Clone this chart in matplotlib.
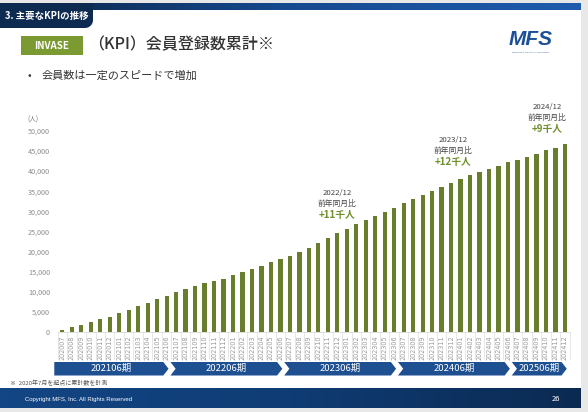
import numpy as np
import matplotlib
matplotlib.use('Agg')
import matplotlib.pyplot as plt
from matplotlib.patches import Polygon, Rectangle
from matplotlib.transforms import blended_transform_factory
from matplotlib.colors import LinearSegmentedColormap
from matplotlib.ticker import FuncFormatter

plt.rcParams['font.family'] = ['Noto Sans CJK JP', 'DejaVu Sans']

# ---------------- data ----------------
months = ['202007', '202008', '202009', '202010', '202011', '202012',
          '202101', '202102', '202103', '202104', '202105', '202106',
          '202107', '202108', '202109', '202110', '202111', '202112',
          '202201', '202202', '202203', '202204', '202205', '202206',
          '202207', '202208', '202209', '202210', '202211', '202212',
          '202301', '202302', '202303', '202304', '202305', '202306',
          '202307', '202308', '202309', '202310', '202311', '202312',
          '202401', '202402', '202403', '202404', '202405', '202406',
          '202407', '202408', '202409', '202410', '202411', '202412']
members = [600, 1200, 1800, 2550, 3300, 3900, 4700, 5500, 6500, 7350, 8350, 9100,
           9900, 10700, 11600, 12300, 12700, 13200, 14100, 15000, 15700, 16500, 17400, 18200,
           18900, 19900, 20900, 22100, 23500, 24600, 25600, 26800, 27900, 28900, 29900, 30900,
           32000, 33000, 34000, 35100, 36100, 37000, 38000, 38900, 39800, 40600, 41300, 42200,
           42800, 43400, 44200, 45100, 45800, 46600]
period_labels = ['202106期', '202206期', '202306期', '202406期', '202506期']
period_first = [0, 12, 24, 36, 48]
period_last = [11, 23, 35, 47, 53]
ann_index = [29, 41, 53]
ann_month = ['2022/12', '2023/12', '2024/12']
ann_yoy = ['+11千人', '+12千人', '+9千人']
yticks = [0, 5000, 10000, 15000, 20000, 25000, 30000, 35000, 40000, 45000, 50000]

W, H = 588, 412
fig = plt.figure(figsize=(W / 100, H / 100), dpi=100, facecolor='#e8e8e8')

# ---------------- slide decoration ----------------
bg = fig.add_axes([0, 0, 1, 1], zorder=-1)
bg.set_xlim(0, W)
bg.set_ylim(H, 0)
bg.axis('off')
bg.add_patch(Rectangle((0, 3), 581, 405, facecolor='white', edgecolor='none'))

top_cmap = LinearSegmentedColormap.from_list('top', ['#0b2447', '#164a90', '#1f5cad'])
bg.imshow(np.linspace(0, 1, 256)[None, :], extent=[0, 581, 10, 3], cmap=top_cmap,
          aspect='auto', zorder=1)
# tab with rounded bottom-right corner
r = 8
ang = np.linspace(0, np.pi / 2, 12)
arc = [(93 - r + r * np.cos(a), 28 - r + r * np.sin(a)) for a in ang]
tab_pts = [(0, 3), (93, 3)] + arc + [(0, 28)]
bg.add_patch(Polygon(tab_pts, closed=True, facecolor='#0d2a50', edgecolor='none', zorder=2))
bg.text(5, 16, '3. 主要なKPIの推移', color='white', fontsize=6.8, fontweight='bold',
        ha='left', va='center', zorder=3)

bg.add_patch(Rectangle((21, 36), 62, 19, facecolor='#7b9a31', edgecolor='none', zorder=2))
bg.text(52, 45.5, 'INVASE', color='white', fontsize=7, fontweight='bold',
        ha='center', va='center', zorder=3)
bg.text(88, 45, '（KPI）会員登録数累計※', color='#333333', fontsize=11.5,
        fontweight='medium', ha='left', va='center', zorder=3)

bg.text(531, 39, 'MFS', color='#1b4f97', fontsize=15, fontweight='bold', style='italic',
        family=['Liberation Sans', 'DejaVu Sans'], ha='center', va='center', zorder=3)
bg.text(531, 52, 'MORTGAGE  FINANCIAL  SOLUTIONS', color='#1b4f97', fontsize=1.6,
        ha='center', va='center', zorder=3)

bg.text(28, 76, '•', color='#333333', fontsize=7.5, ha='left', va='center')
bg.text(42, 76, '会員数は一定のスピードで増加', color='#333333', fontsize=8,
        ha='left', va='center')

bg.text(33, 120, '(人)', color='#777777', fontsize=4.8, ha='center', va='center')

bg.text(10, 383.5, '※  2020年7月を起点に累計数を計測', color='#555555', fontsize=4.3,
        style='italic', ha='left', va='center')

foot_cmap = LinearSegmentedColormap.from_list('foot', ['#134684', '#0f3c74', '#0b2a52'])
bg.imshow(np.linspace(0, 1, 256)[None, :], extent=[0, 581, 408, 388], cmap=foot_cmap,
          aspect='auto', zorder=1)
bg.text(25, 399, 'Copyright MFS, Inc. All Rights Reserved', color='white', fontsize=4.3,
        ha='left', va='center', zorder=3, family=['Liberation Sans', 'DejaVu Sans'])
bg.text(556, 399, '26', color='white', fontsize=5.5, ha='center', va='center', zorder=3)

# ---------------- chart ----------------
ax = fig.add_axes([57.6 / W, (H - 332.3) / H, 512 / W, 201.6 / H])
ax.patch.set_alpha(0)
x = np.arange(len(months))
ax.bar(x, members, width=0.45, color='#687e2c', zorder=2)
ax.set_xlim(-0.5, len(months) - 0.5)
ax.set_ylim(0, 50000)

ax.set_yticks(yticks)
ax.yaxis.set_major_formatter(FuncFormatter(lambda v, p: f'{int(v):,}'))
ax.tick_params(axis='y', length=0, pad=5.5, labelsize=5.2, labelcolor='#8c8c8c')

ax.set_xticks(x)
ax.set_xticklabels(months, rotation=90, fontsize=4.7, color='#9a9a9a',
                   family=['DejaVu Sans'])
ax.set_xticks(np.arange(-0.5, len(months)), minor=True)
ax.tick_params(axis='x', which='major', length=0, pad=2.5)
ax.tick_params(axis='x', which='minor', length=19.5, width=0.5, color='#dcdcdc')

for s in ['top', 'right', 'left']:
    ax.spines[s].set_visible(False)
ax.spines['bottom'].set_color('#d9d9d9')
ax.spines['bottom'].set_linewidth(0.6)

# annotations
ann_dx = [0, 2, -18]
ann_dy = [18, 21, 15]
for k, i in enumerate(ann_index):
    v = members[i]
    ax.annotate(ann_yoy[k], xy=(i, v), xytext=(ann_dx[k], ann_dy[k]),
                textcoords='offset pixels', ha='center', va='center',
                fontsize=7, fontweight='bold', color='#6f8f2c', annotation_clip=False)
    ax.annotate('前年同月比', xy=(i, v), xytext=(ann_dx[k], ann_dy[k] + 11.5),
                textcoords='offset pixels', ha='center', va='center',
                fontsize=5.6, color='#444444', annotation_clip=False)
    ax.annotate(ann_month[k], xy=(i, v), xytext=(ann_dx[k], ann_dy[k] + 22),
                textcoords='offset pixels', ha='center', va='center',
                fontsize=5.6, color='#444444', annotation_clip=False)

# period chevrons
tr = blended_transform_factory(ax.transData, fig.transFigure)
ytop = (H - 362) / H
ybot = (H - 375.5) / H
ymid = (ytop + ybot) / 2
tip = 0.55
shift = 0.3
gap = 0.2
for k, lab in enumerate(period_labels):
    a = period_first[k] - 0.5 - shift + gap
    b = period_last[k] + 0.5 - shift
    if k == 0:
        a = period_first[k] - 0.85
        pts = [(a, ytop), (b - tip, ytop), (b, ymid), (b - tip, ybot), (a, ybot)]
    else:
        pts = [(a, ytop), (b - tip, ytop), (b, ymid), (b - tip, ybot), (a, ybot),
               (a + tip, ymid)]
    ax.add_patch(Polygon(pts, closed=True, transform=tr, facecolor='#1d4f91',
                         edgecolor='none', clip_on=False))
    ax.text((a + b) / 2, ymid, lab, transform=tr, color='white', fontsize=6.8,
            ha='center', va='center', clip_on=False)

fig.savefig('out.png', dpi=100, facecolor=fig.get_facecolor())
